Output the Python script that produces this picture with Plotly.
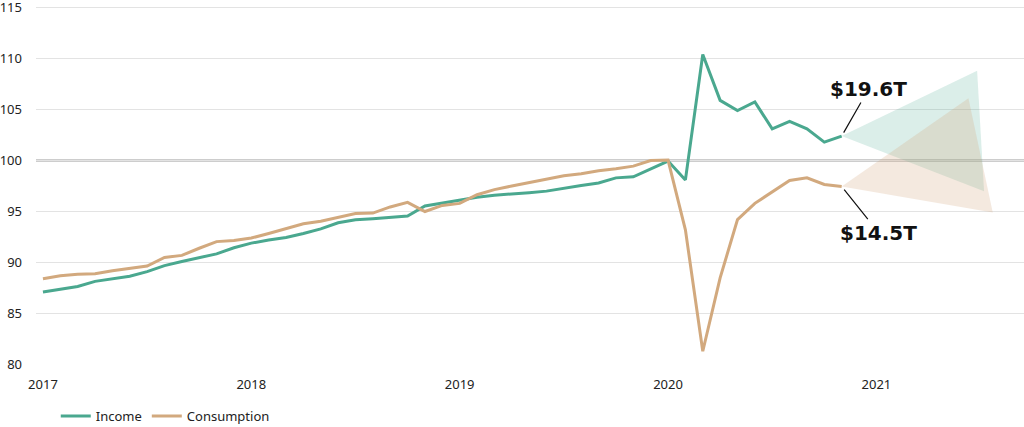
import plotly.graph_objects as go

# Monthly index values (Feb 2020 = 100), first point = start of 2017 on the axis
income = [87.1, 87.4, 87.65, 88.15, 88.4, 88.65, 89.1, 89.7, 90.1, 90.5, 90.85, 91.45,
          91.9, 92.2, 92.45, 92.85, 93.3, 93.9, 94.2, 94.3, 94.45, 94.55, 95.55, 95.85,
          96.1, 96.4, 96.6, 96.7, 96.85, 97.0, 97.3, 97.55, 97.8, 98.3, 98.4, 99.2,
          99.95, 98.1, 110.4, 105.9, 104.9, 105.75, 103.1, 103.85, 103.1, 101.8, 102.4]
consumption = [88.4, 88.7, 88.85, 88.9, 89.2, 89.4, 89.65, 90.5, 90.7, 91.4, 92.05, 92.15,
               92.4, 92.85, 93.3, 93.8, 94.05, 94.4, 94.8, 94.85, 95.45, 95.9, 95.0, 95.6,
               95.8, 96.65, 97.15, 97.5, 97.85, 98.2, 98.5, 98.7, 99.0, 99.2, 99.45, 100.0,
               100.05, 93.2, 81.3, 88.5, 94.2, 95.8, 96.9, 98.05, 98.3, 97.65, 97.45]
months = list(range(len(income)))

tick_vals = [0, 12, 24, 36, 48]
tick_labels = ["2017", "2018", "2019", "2020", "2021"]
y_ticks = [80, 85, 90, 95, 100, 105, 110, 115]

# Forecast cones (tip months and values)
income_cone_x = [53.8, 54.2]
income_cone_y = [108.8, 97.0]
cons_cone_x = [53.3, 54.7]
cons_cone_y = [106.1, 94.9]

income_label = "$19.6T"
cons_label = "$14.5T"

TEAL = "#4AA88F"
TAN = "#D2A97E"

fig = go.Figure()

last = len(income) - 1
fig.add_trace(go.Scatter(
    x=[months[last]] + income_cone_x + [months[last]],
    y=[income[last]] + income_cone_y + [income[last]],
    fill="toself", fillcolor="rgba(74,168,143,0.2)", line=dict(width=0),
    mode="lines", showlegend=False, hoverinfo="skip"))
fig.add_trace(go.Scatter(
    x=[months[last]] + cons_cone_x + [months[last]],
    y=[consumption[last]] + cons_cone_y + [consumption[last]],
    fill="toself", fillcolor="rgba(210,169,126,0.25)", line=dict(width=0),
    mode="lines", showlegend=False, hoverinfo="skip"))

fig.add_trace(go.Scatter(x=months, y=income, mode="lines", name="Income",
                         line=dict(color=TEAL, width=3)))
fig.add_trace(go.Scatter(x=months, y=consumption, mode="lines", name="Consumption",
                         line=dict(color=TAN, width=3)))

fig.add_hline(y=100, line=dict(color="#3a3a3a", width=1.6), layer="below")

fig.add_annotation(x=months[last], y=income[last], text="<b>" + income_label + "</b>",
                   showarrow=True, arrowhead=0, arrowwidth=1.2, arrowcolor="#111",
                   ax=27, ay=-47, standoff=4,
                   font=dict(family="DejaVu Sans", size=20, color="#111"))
fig.add_annotation(x=months[last], y=consumption[last], text="<b>" + cons_label + "</b>",
                   showarrow=True, arrowhead=0, arrowwidth=1.2, arrowcolor="#111",
                   ax=37, ay=46, standoff=4,
                   font=dict(family="DejaVu Sans", size=20, color="#111"))

fig.update_layout(
    width=1024, height=427,
    margin=dict(l=36, r=0, t=4, b=62, autoexpand=False),
    plot_bgcolor="white", paper_bgcolor="white",
    font=dict(family="Noto Sans", size=13, color="#222"),
    showlegend=True,
    legend=dict(orientation="h", x=0.02, y=-0.10, xanchor="left", yanchor="top",
                font=dict(size=13), itemwidth=30, tracegroupgap=0),
    hovermode=False,
)
fig.update_xaxes(range=[-0.4, 56.5], tickvals=tick_vals, ticktext=tick_labels,
                 showgrid=False, zeroline=False, showline=False, ticks="",
                 ticklabelstandoff=10, automargin=False)
fig.update_yaxes(range=[79.95, 115.35], tickvals=y_ticks, showgrid=True,
                 gridcolor="#e3e3e3", gridwidth=1, zeroline=False, showline=False,
                 ticks="", ticklabelstandoff=13, automargin=False,
                 ticklabeloverflow="allow")

fig.write_html("out.html", config={"displayModeBar": False},
               post_script="document.body.style.margin='0';document.body.style.overflow='hidden';")
